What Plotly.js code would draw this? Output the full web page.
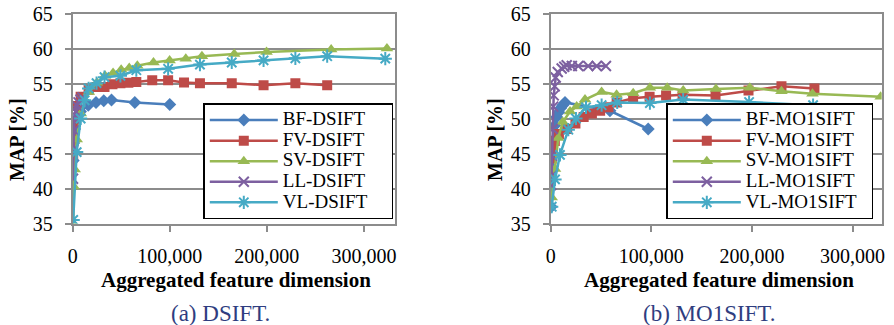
<!DOCTYPE html>
<html>
<head>
<meta charset="utf-8">
<script src="https://cdn.plot.ly/plotly-3.0.1.min.js"></script>
<style>html,body{margin:0;padding:0;background:#fff;}#chart{width:894px;height:325px;}</style>
</head>
<body>
<div id="chart"></div>
<script>
// ---------- (a) DSIFT ----------
const bfD_x = [500, 1000, 2000, 4000, 8000, 16000, 24000, 32000, 40000, 64000, 100000];
const bfD_y = [44.0, 46.5, 48.5, 50.0, 51.0, 51.9, 52.3, 52.55, 52.65, 52.3, 52.0];

const fvD_x = [512, 1024, 2048, 4096, 8192, 16384, 24576, 32768, 40960, 49152, 57344, 65536, 81920, 98304, 114688, 131072, 163840, 196608, 229376, 262144];
const fvD_y = [44.9, 47.0, 49.5, 51.8, 53.1, 54.1, 54.5, 54.5, 54.9, 55.05, 55.1, 55.2, 55.45, 55.45, 55.15, 55.05, 55.05, 54.75, 55.05, 54.75];

const svD_x = [520, 1040, 2080, 4160, 8320, 16640, 24960, 33280, 41600, 49920, 58240, 66560, 83200, 99840, 116480, 133120, 166400, 199680, 266240, 323700];
const svD_y = [35.0, 40.3, 42.7, 47.0, 50.7, 53.8, 55.1, 56.1, 56.5, 56.95, 57.2, 57.55, 58.0, 58.3, 58.55, 58.9, 59.2, 59.5, 59.85, 60.0];

const llD_x = [300, 600, 1200, 2000, 3000, 4500, 6000, 8000, 10000];
const llD_y = [41.4, 45.5, 48.3, 50.0, 51.0, 51.8, 52.3, 52.7, 53.0];

const vlD_x = [512, 4096, 8192, 12288, 16384, 24576, 32768, 49152, 65536, 98304, 131072, 163840, 196608, 229376, 262144, 322000];
const vlD_y = [35.5, 45.2, 50.0, 52.6, 54.3, 55.05, 55.9, 56.1, 56.9, 57.1, 57.7, 58.0, 58.3, 58.6, 58.9, 58.55];

// ---------- (b) MO1SIFT ----------
const bfM_x = [500, 1000, 2000, 4000, 6000, 8000, 10000, 12000, 14200, 58900, 96900];
const bfM_y = [37.4, 43.0, 46.8, 49.0, 50.2, 50.9, 51.5, 51.9, 52.3, 51.1, 48.5];

const fvM_x = [512, 1024, 2048, 4096, 8192, 16384, 24576, 32768, 40960, 49152, 57344, 65536, 81920, 98304, 114688, 131072, 163840, 196608, 229376, 262144];
const fvM_y = [42.5, 44.3, 45.5, 46.8, 47.8, 48.5, 49.3, 50.2, 50.7, 51.1, 51.6, 52.3, 52.9, 53.1, 53.3, 53.4, 53.3, 54.0, 54.6, 54.3];

const svM_x = [1000, 4300, 7500, 12000, 19200, 25800, 34100, 50600, 65500, 82000, 98600, 115800, 131700, 164200, 197900, 229400, 260200, 328000];
const svM_y = [38.7, 42.8, 47.2, 49.5, 51.0, 51.7, 52.7, 53.8, 53.4, 53.6, 54.4, 54.4, 54.0, 54.2, 54.4, 53.9, 53.55, 53.1];

const llM_x = [500, 1000, 1500, 2000, 2500, 3000, 4000, 5000, 7000, 10900, 13500, 15900, 21000, 27400, 37300, 45700, 54900];
const llM_y = [40.5, 41.8, 44.7, 48.5, 51.7, 53.3, 54.6, 55.85, 56.65, 57.15, 57.4, 57.6, 57.5, 57.5, 57.5, 57.5, 57.5];

const vlM_x = [1000, 4300, 9200, 17500, 25100, 35100, 50600, 66100, 98600, 131700, 197200, 260800];
const vlM_y = [37.4, 41.3, 44.8, 48.4, 50.0, 51.6, 51.9, 52.3, 52.2, 52.7, 52.35, 51.9];

const namesD = ["BF-DSIFT", "FV-DSIFT", "SV-DSIFT", "LL-DSIFT", "VL-DSIFT"];
const namesM = ["BF-MO1SIFT", "FV-MO1SIFT", "SV-MO1SIFT", "LL-MO1SIFT", "VL-MO1SIFT"];
const yTicks = [35, 40, 45, 50, 55, 60, 65];
const xTicks = [0, 100000, 200000, 300000];
const xTickText = ["0", "100,000", "200,000", "300,000"];

const colors = ["#4A7EBB", "#BE4B48", "#98B954", "#7D60A0", "#46AAC5"];
const symbols = ["diamond", "square", "triangle-up", "x-thin-open", "asterisk-open"];
const sizes = [10, 10, 11, 10, 11];

const serif = "Liberation Serif";
const W = 894, H = 325;
const px = v => v / W;
const py = v => 1 - v / H;

function legName(n, pad) {
  return '<span style="font-size:19px">' + n + pad + '</span>';
}

function mk(x, y, name, i, xa, ya, leg, pad) {
  return {
    x: x, y: y, name: legName(name, pad), type: "scatter", mode: "lines+markers",
    xaxis: xa, yaxis: ya, legend: leg,
    line: {color: colors[i], width: 2.5},
    marker: {symbol: symbols[i], size: sizes[i], color: colors[i],
             line: {color: colors[i], width: (i >= 3 ? 2 : 0)}}
  };
}

const dataD = [[bfD_x, bfD_y], [fvD_x, fvD_y], [svD_x, svD_y], [llD_x, llD_y], [vlD_x, vlD_y]];
const dataM = [[bfM_x, bfM_y], [fvM_x, fvM_y], [svM_x, svM_y], [llM_x, llM_y], [vlM_x, vlM_y]];
const traces = [];
dataD.forEach((d, i) => traces.push(mk(d[0], d[1], namesD[i], i, "x", "y", "legend", "\u2002\u2002")));
dataM.forEach((d, i) => traces.push(mk(d[0], d[1], namesM[i], i, "x2", "y2", "legend2", "\u2002")));

const gray = "#8c8c8c";
function xax(dom, maxv, anchor) {
  return {domain: dom, anchor: anchor, range: [0, maxv], tickvals: xTicks, ticktext: xTickText,
    showgrid: false, zeroline: false, showline: true, mirror: true, linecolor: gray, linewidth: 2,
    ticks: "outside", ticklen: 6, tickwidth: 2, tickcolor: gray, ticklabelstandoff: 7,
    tickfont: {family: serif, size: 20, color: "#000"}};
}
function yax(dom, anchor) {
  return {domain: dom, anchor: anchor, range: [35, 65], tickvals: yTicks,
    showgrid: true, gridcolor: gray, gridwidth: 2, zeroline: false,
    showline: true, mirror: true, linecolor: gray, linewidth: 2,
    ticks: "outside", ticklen: 6, tickwidth: 2, tickcolor: gray, ticklabelstandoff: 8,
    tickfont: {family: serif, size: 20, color: "#000"}};
}
const yDom = [py(223.5), py(13.5)];

function legend(xr) {
  return {x: px(xr), y: py(219.3), xanchor: "right", yanchor: "bottom",
    bgcolor: "#fff", bordercolor: "#000", borderwidth: 1.5,
    font: {family: serif, size: 13.5, color: "#000"}, tracegroupgap: 0, itemwidth: 68};
}

const ytFont = {family: serif, size: 20, color: "#000", weight: "bold"};
const xtFont = {family: serif, size: 21, color: "#000", weight: "bold"};
const capFont = {family: serif, size: 23, color: "#2f3d80"};
const ann = (x, y, text, font, rot) => ({xref: "paper", yref: "paper", x: px(x), y: py(y),
  xanchor: "center", yanchor: "middle", showarrow: false, text: text, font: font, textangle: rot || 0});

const layout = {
  width: W, height: H, margin: {l: 0, r: 0, t: 0, b: 0},
  paper_bgcolor: "#fff", plot_bgcolor: "#fff", showlegend: true,
  xaxis: xax([px(72.7), px(395)], 332000, "y"),
  yaxis: yax(yDom, "x"),
  xaxis2: xax([px(550.7), px(881.7)], 329000, "y2"),
  yaxis2: yax(yDom, "x2"),
  legend: legend(393.3),
  legend2: legend(873.3),
  annotations: [
    ann(17, 140, "<b>MAP [%]</b>", ytFont, -90),
    ann(495, 140, "<b>MAP [%]</b>", ytFont, -90),
    ann(235.8, 279.5, "<b>Aggregated feature dimension</b>", xtFont),
    ann(719.2, 279.5, "<b>Aggregated feature dimension</b>", xtFont),
    ann(220.8, 313.5, "(a) DSIFT.", capFont),
    ann(709, 313.5, "(b) MO1SIFT.", capFont)
  ]
};

Plotly.newPlot("chart", traces, layout, {staticPlot: true, displayModeBar: false});
</script>
</body>
</html>
